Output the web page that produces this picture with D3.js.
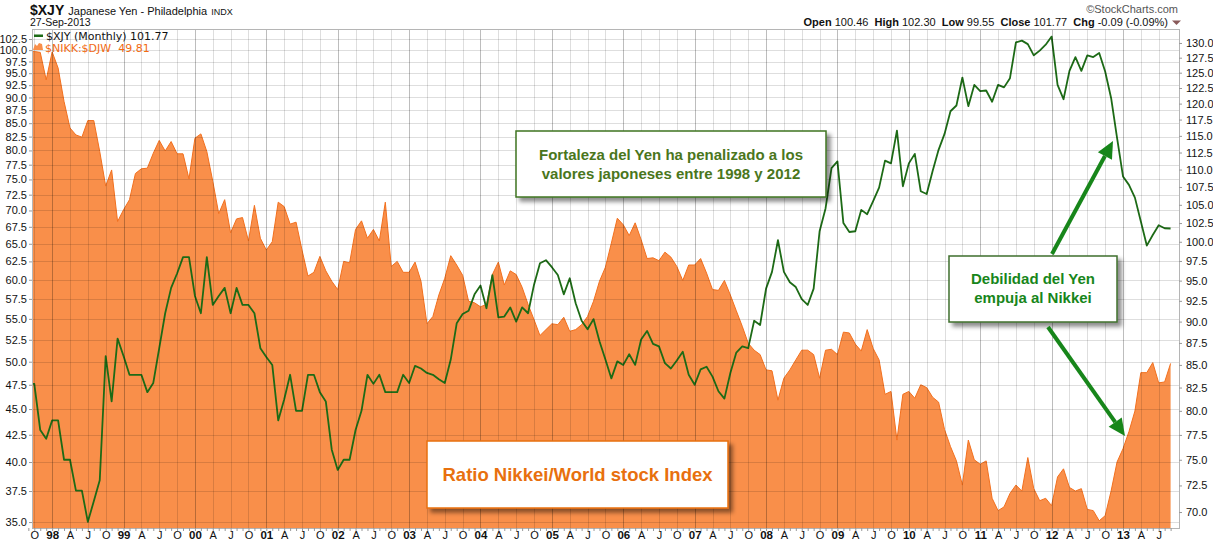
<!DOCTYPE html>
<html>
<head>
<meta charset="utf-8">
<script src="https://cdn.jsdelivr.net/npm/d3@7"></script>
<style>
  body { margin: 0; background: #fff; }
  svg { display: block; font-family: "Liberation Sans", Arial, sans-serif; }
</style>
</head>
<body>
<svg id="chart"></svg>
<script>
// monthly closes, Sep 1997 .. Sep 2013
const ratioValues = [ // $NIKK:$DJW (left axis)
  99.7, 99.7, 99.5, 93.6,
  99.6, 96.1, 89.2, 84.1, 82.8, 82.4, 85.5, 85.5, 79.8, 73.9, 76.6, 68.3,
  70.1, 71.7, 76.0, 76.8, 76.9, 79.5, 81.8, 79.9, 81.6, 79.4, 79.4, 75.1,
  82.2, 83.0, 79.8, 74.7, 69.5, 71.7, 66.6, 68.7, 68.9, 65.4, 70.8, 65.8,
  64.1, 65.3, 71.3, 70.6, 67.9, 68.2, 64.1, 60.5, 61.0, 63.2, 61.2, 59.8,
  58.7, 62.5, 62.3, 67.1, 68.4, 65.8, 67.1, 65.4, 71.3, 61.8, 62.5, 61.0,
  61.0, 62.4, 59.8, 54.4, 55.3, 58.0, 60.2, 63.3, 62.0, 60.6, 57.2, 57.0,
  56.5, 56.8, 60.7, 62.4, 59.3, 61.2, 60.7, 59.0, 56.8, 54.9, 53.0, 53.7,
  54.4, 54.3, 55.2, 53.5, 53.7, 54.3, 55.3, 57.2, 59.8, 61.7, 65.1, 68.8,
  67.8, 66.2, 68.1, 65.6, 62.9, 63.0, 62.6, 63.8, 63.1, 61.8, 59.9, 62.0,
  62.0, 62.9, 60.9, 58.7, 58.6, 59.9, 58.0, 56.0, 54.1, 52.1, 51.3, 50.8,
  49.1, 49.0, 45.9, 48.2, 49.1, 50.2, 51.3, 51.3, 50.8, 48.2, 51.3, 51.4,
  50.8, 53.4, 53.3, 52.0, 51.2, 53.7, 51.5, 50.2, 46.5, 46.8, 42.0, 46.5,
  46.8, 46.1, 47.5, 47.2, 46.2, 45.7, 43.0, 41.4, 40.1, 38.0, 42.0, 40.2,
  39.8, 40.1, 36.9, 35.9, 36.2, 37.3, 38.0, 37.5, 40.4, 37.7, 36.7, 36.9,
  36.3, 38.7, 39.4, 37.8, 37.5, 37.7, 36.0, 35.9, 35.1, 35.5, 37.5, 40.0,
  41.2, 42.8, 44.8, 48.8, 48.8, 49.9, 47.7, 47.8, 49.81
];
const yenValues = [ // $XJY (right axis)
  82.9, 82.9, 78.0, 77.1,
  79.0, 79.0, 75.0, 75.0, 72.0, 72.0, 69.1, 71.0, 73.0, 86.0, 81.0, 88.0,
  86.0, 83.9, 83.9, 83.9, 82.0, 83.0, 86.9, 91.0, 94.1, 95.9, 98.0, 98.0,
  93.1, 91.0, 98.0, 92.0, 93.1, 94.1, 91.0, 94.1, 92.0, 92.0, 91.0, 86.9,
  85.9, 85.0, 79.0, 81.2, 83.9, 80.0, 80.0, 83.9, 83.9, 82.0, 81.0, 76.0,
  74.0, 75.0, 75.0, 78.0, 80.0, 83.9, 82.9, 83.9, 82.0, 82.0, 82.0, 83.9,
  83.0, 84.9, 84.6, 84.1, 83.9, 83.4, 83.0, 85.6, 89.8, 90.9, 91.3, 93.3,
  94.4, 91.6, 95.7, 90.5, 90.6, 91.7, 90.0, 91.7, 91.0, 94.5, 97.2, 97.6,
  96.7, 95.7, 93.3, 95.3, 92.2, 90.1, 89.1, 90.3, 87.7, 85.6, 83.5, 85.4,
  85.0, 86.2, 85.0, 87.9, 88.9, 87.4, 87.1, 85.2, 84.6, 85.5, 86.5, 83.9,
  82.8, 84.5, 84.8, 83.7, 82.1, 81.3, 84.1, 86.4, 87.1, 86.9, 90.1, 89.6,
  94.0, 96.1, 100.2, 96.1, 94.8, 94.2, 92.7, 92.0, 94.0, 101.4, 104.5, 110.2,
  111.2, 102.5, 101.3, 101.4, 104.3, 103.7, 105.5, 107.4, 111.3, 110.9, 115.8, 107.6,
  110.9, 112.3, 106.9, 106.5, 109.8, 112.9, 115.3, 118.8, 119.7, 124.2, 119.6, 123.0,
  122.0, 122.1, 120.3, 123.0, 122.6, 124.1, 130.1, 130.4, 129.8, 127.9, 128.7, 129.7,
  131.1, 123.0, 120.7, 125.3, 127.6, 125.3, 127.9, 127.6, 128.3, 125.2, 120.9, 114.7,
  109.0, 107.8, 106.0, 102.7, 99.5, 100.9, 102.2, 101.8, 101.77
];
const leftTicks = [35, 37.5, 40, 42.5, 45, 47.5, 50, 52.5, 55, 57.5, 60, 62.5, 65, 67.5,
  70, 72.5, 75, 77.5, 80, 82.5, 85, 87.5, 90, 92.5, 95, 97.5, 100, 102.5];
const rightTicks = [70, 72.5, 75, 77.5, 80, 82.5, 85, 87.5, 90, 92.5, 95, 97.5, 100,
  102.5, 105, 107.5, 110, 112.5, 115, 117.5, 120, 122.5, 125, 127.5, 130];
const monthLetters = { 3: "A", 6: "J", 9: "O" };

const months = d3.utcMonth.range(new Date(Date.UTC(1997, 8, 1)), new Date(Date.UTC(2013, 9, 1)));
const data = months.map((m, i) => ({ date: m, ratio: ratioValues[i], yen: yenValues[i] }));

const W = 1213, H = 544;
const plot = { left: 32, right: 1179, top: 29, bottom: 528 };
const svg = d3.select("#chart").attr("width", W).attr("height", H);

const x = d3.scalePoint().domain(months).range([28.35, 1170.6]);
const yL = d3.scaleLog().domain([34.54, 104.81]).range([plot.bottom, plot.top]);
const yR = d3.scaleLog().domain([68.54, 132.42]).range([plot.bottom, plot.top]);

const defs = svg.append("defs");
defs.append("clipPath").attr("id", "plotClip").append("rect")
  .attr("x", plot.left).attr("y", plot.top)
  .attr("width", plot.right - plot.left).attr("height", plot.bottom - plot.top);
defs.append("filter").attr("id", "shadow").attr("x", "-10%").attr("y", "-20%")
  .attr("width", "130%").attr("height", "150%")
  .append("feDropShadow").attr("dx", 4).attr("dy", 4).attr("stdDeviation", 2)
  .attr("flood-color", "#000").attr("flood-opacity", 0.45);

const quarters = months.filter(m => m.getUTCMonth() % 3 === 0);

// orange area
const body = svg.append("g").attr("clip-path", "url(#plotClip)");
body.append("path").datum(data)
  .attr("fill", "#f98f4a")
  .attr("d", d3.area().x(d => x(d.date)).y0(plot.bottom).y1(d => yL(d.ratio)));
body.append("path").datum(data)
  .attr("fill", "none").attr("stroke", "#f2701e").attr("stroke-width", 1)
  .attr("d", d3.line().x(d => x(d.date)).y(d => yL(d.ratio)));

// grid on top of area (translucent so it darkens the orange)
const grid = svg.append("g").attr("clip-path", "url(#plotClip)");
grid.selectAll(".h").data(leftTicks).enter().append("line")
  .attr("x1", plot.left).attr("x2", plot.right)
  .attr("y1", d => Math.round(yL(d)) + 0.5).attr("y2", d => Math.round(yL(d)) + 0.5)
  .attr("stroke", "rgba(0,0,0,0.13)");
grid.selectAll(".v").data(quarters).enter().append("line")
  .attr("x1", d => Math.round(x(d)) + 0.5).attr("x2", d => Math.round(x(d)) + 0.5)
  .attr("y1", plot.top).attr("y2", plot.bottom)
  .attr("stroke", d => d.getUTCMonth() === 0 ? "rgba(0,0,0,0.26)" : "rgba(0,0,0,0.13)");

// green yen line
body.append("path").datum(data)
  .attr("fill", "none").attr("stroke", "#1d6b16").attr("stroke-width", 1.8)
  .attr("stroke-linejoin", "round")
  .attr("d", d3.line().x(d => x(d.date)).y(d => yR(d.yen)));

// plot frame
svg.append("rect")
  .attr("x", plot.left + 0.5).attr("y", plot.top + 0.5)
  .attr("width", plot.right - plot.left).attr("height", plot.bottom - plot.top)
  .attr("fill", "none").attr("stroke", "#b5b5b5");

// axes
const styleAxis = g => {
  g.select(".domain").remove();
  g.selectAll(".tick line").attr("stroke", "#999");
  g.selectAll("text").attr("fill", "#111").style("font-size", "11px");
};
svg.append("g").attr("transform", `translate(${plot.left},0)`)
  .call(d3.axisLeft(yL).tickValues(leftTicks).tickFormat(d3.format(".1f")).tickSize(3).tickPadding(2))
  .call(styleAxis);
svg.append("g").attr("transform", `translate(${plot.right},0)`)
  .call(d3.axisRight(yR).tickValues(rightTicks).tickFormat(d3.format(".1f")).tickSize(3).tickPadding(4))
  .call(styleAxis);
svg.append("g").attr("transform", `translate(0,${plot.bottom})`)
  .call(d3.axisBottom(x).tickSize(3).tickFormat(""))
  .call(styleAxis);
svg.append("g").attr("transform", `translate(0,${plot.bottom})`)
  .call(d3.axisBottom(x).tickValues(quarters).tickSize(0).tickPadding(3)
    .tickFormat(d => d.getUTCMonth() === 0 ? String(d.getUTCFullYear()).slice(2) : monthLetters[d.getUTCMonth()]))
  .call(styleAxis)
  .call(g => g.selectAll("text")
    .style("font-weight", d => d.getUTCMonth() === 0 ? "bold" : "normal")
    .style("font-size", d => d.getUTCMonth() === 0 ? "11.5px" : "11px"));

// header
const head = svg.append("text").attr("x", 30).attr("y", 15).attr("fill", "#111");
head.append("tspan").text("$XJY").style("font-weight", "bold").style("font-size", "14px");
head.append("tspan").text(" Japanese Yen - Philadelphia").style("font-size", "11px").attr("dx", 1);
head.append("tspan").text("INDX").style("font-size", "9px").attr("dx", 4);
svg.append("text").attr("x", 30).attr("y", 26).style("font-size", "10.5px").attr("fill", "#111")
  .text("27-Sep-2013");
svg.append("text").attr("x", 1178).attr("y", 13).attr("text-anchor", "end")
  .style("font-size", "11px").attr("fill", "#555").text("\u00A9StockCharts.com");
const ohlc = [["Open", "100.46"], ["High", "102.30"], ["Low", "99.55"], ["Close", "101.77"], ["Chg", "-0.09 (-0.09%)"]];
const ot = svg.append("text").attr("x", 1168).attr("y", 26).attr("text-anchor", "end")
  .style("font-size", "11px").attr("fill", "#111");
ohlc.forEach(([k, v], i) => {
  ot.append("tspan").text((i ? "  " : "") + k).style("font-weight", "bold").attr("xml:space", "preserve");
  ot.append("tspan").text(" " + v);
});
svg.append("path").attr("d", "M1172,20.5 L1181,20.5 L1176.5,25 Z").attr("fill", "#8a5a5a");

// legend
const lg = svg.append("g").style("font-family", "'DejaVu Sans', Verdana, sans-serif").style("font-size", "11px");
lg.append("rect").attr("x", 34).attr("y", 34.5).attr("width", 9).attr("height", 2.5).attr("fill", "#1d6b16");
lg.append("text").attr("x", 46).attr("y", 39.5).attr("fill", "#111").text("$XJY (Monthly) 101.77");
lg.append("path").attr("d", "M33,50 L35,44 L37,46 L39,43 L42,44 L43,50 Z").attr("fill", "#f98f4a");
lg.append("text").attr("x", 45).attr("y", 51.5).attr("fill", "#f26a12")
  .attr("xml:space", "preserve").text("$NIKK:$DJW  49.81");

// annotations
function noteBox(box, lines, opts) {
  const g = svg.append("g");
  g.append("rect").attr("x", box[0]).attr("y", box[1]).attr("width", box[2]).attr("height", box[3])
    .attr("fill", "#fff").attr("stroke", opts.border).attr("stroke-width", 1.5)
    .attr("filter", "url(#shadow)");
  lines.forEach((t, i) => {
    g.append("text").attr("x", box[0] + box[2] / 2).attr("y", opts.y0 + i * opts.lh)
      .attr("text-anchor", "middle").attr("fill", opts.color)
      .style("font-weight", "bold").style("font-size", opts.size).text(t);
  });
}
noteBox([516, 131, 310, 66], ["Fortaleza del Yen ha penalizado a los", "valores japoneses entre 1998 y 2012"],
  { border: "#3f7420", color: "#4a761c", size: "15px", y0: 160, lh: 19 });
noteBox([949, 256, 168, 66], ["Debilidad del Yen", "empuja al Nikkei"],
  { border: "#3f6f2c", color: "#17861a", size: "15px", y0: 284, lh: 19 });
noteBox([427, 441, 301, 67], ["Ratio Nikkei/World stock Index"],
  { border: "#e8700e", color: "#e8700e", size: "18.5px", y0: 481, lh: 0 });

function arrow(x1, y1, x2, y2) {
  const a = Math.atan2(y2 - y1, x2 - x1), len = 17, half = 8;
  const bx = x2 - len * Math.cos(a), by = y2 - len * Math.sin(a);
  svg.append("line").attr("x1", x1).attr("y1", y1).attr("x2", bx).attr("y2", by)
    .attr("stroke", "#17861a").attr("stroke-width", 4);
  const px = -Math.sin(a) * half, py = Math.cos(a) * half;
  svg.append("path")
    .attr("d", `M${x2},${y2} L${bx + px},${by + py} L${bx - px},${by - py} Z`)
    .attr("fill", "#17861a");
}
arrow(1052, 254, 1113, 141);
arrow(1048, 327, 1125, 436);
</script>
</body>
</html>
